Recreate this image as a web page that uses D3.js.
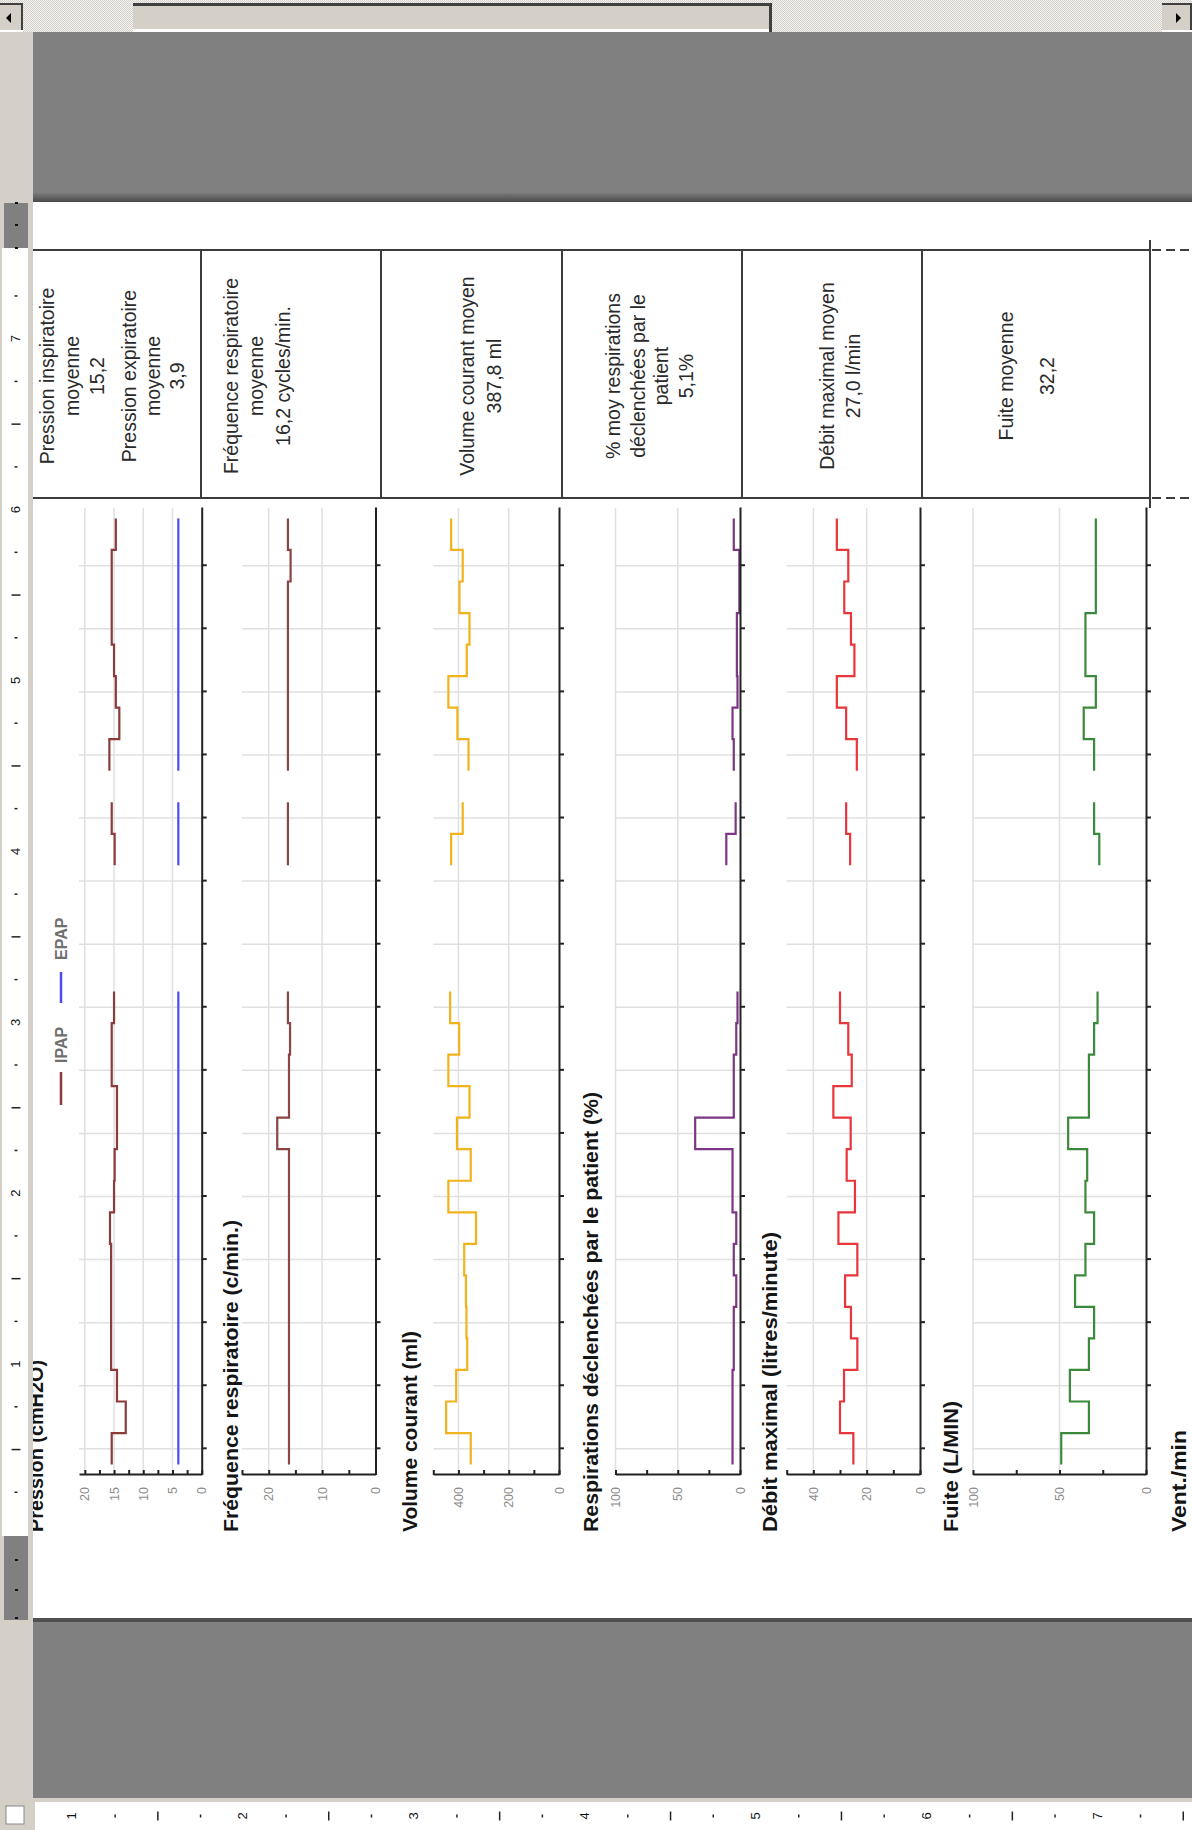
<!DOCTYPE html>
<html><head><meta charset="utf-8">
<script src="https://cdn.jsdelivr.net/npm/d3@7"></script>
<style>body{margin:0;background:#808080;overflow:hidden}svg{display:block}</style>
</head><body>
<svg id="c" width="1192" height="1830"></svg>
<script>
// ---------------- DATA (day index 0 = oldest day) ----------------
const dayIndex = d3.range(30);
const timeTicks = d3.range(0, 29, 2);
const ipap  = [15.4,13.0,14.5,15.5,15.5,15.5,15.5,15.7,15.0,14.9,14.5,14.5,15.4,15.4,15.0,null,null,null,null,14.9,15.4,null,15.8,14.1,14.7,15.0,15.4,15.4,15.4,14.7];
const epap  = [4.0,4.0,4.0,4.0,4.0,4.0,4.0,4.0,4.0,4.0,4.0,4.0,4.0,4.0,4.0,null,null,null,null,4.0,4.0,null,4.0,4.0,4.0,4.0,4.0,4.0,4.0,4.0];
const freq  = [16.2,16.2,16.2,16.2,16.2,16.2,16.2,16.2,16.2,16.2,18.4,16.2,16.2,16.0,16.4,null,null,null,null,16.4,16.4,null,16.4,16.4,16.4,16.4,16.4,16.4,15.9,16.4];
const volume= [351,449,409,365,368,370,377,330,440,351,406,356,440,397,433,null,null,null,null,429,383,null,360,404,440,367,356,396,383,429];
const patientPct = [6,6,6,5,5,3,5,3,6,6,36,5,5,3,2,null,null,null,null,11,3.5,null,5,6,2,2.5,2.5,0.5,0.5,5];
const debit = [25,30,28.5,23.5,25.9,28.1,23.5,30.6,24.4,27.5,26,32.5,25.6,26.9,30,null,null,null,null,26.2,27.7,null,23.7,27.7,31.2,24.6,25.9,28.4,26.9,31.2];
const fuite = [49,33,44,33,30,41,35,30,35,34,45,33,33,30,28,null,null,null,null,27,30,null,30,36,29,35,35,29,29,29];

const panelTitles = ["Pression (cmH2O)","Fréquence respiratoire (c/min.)","Volume courant (ml)","Respirations déclenchées par le patient (%)","Débit maximal (litres/minute)","Fuite (L/MIN)","Vent./min"];
const valueMax = [21,25,500,100,50,100];
const valueTickStep = [2.5,5,100,25,10,25];
const valueLabelStep = [5,10,200,50,20,50];
const legendNames = ["IPAP","EPAP"];

const headerCells = [
  ["Pression inspiratoire","moyenne","15,2","Pression expiratoire","moyenne","3,9"],
  ["Fréquence respiratoire","moyenne","16,2 cycles/min."],
  ["Volume courant moyen","387,8 ml"],
  ["% moy respirations","déclenchées par le","patient","5,1%"],
  ["Débit maximal moyen","27,0 l/min"],
  ["Fuite moyenne","32,2"]
];

// ---------------- LAYOUT ----------------
const W = 1192, H = 1830;
const headerLineV = [[47,72,96.5,129,153,177],[231,256,282.5],[466.5,494],[612.5,637.6,661,686],[826.5,853],[1006,1047]];
const stripEdges = [201,381,562,742,922,1150];
const axisV = [201.7,375.5,559,740,920,1146];
const topV  = [79,242,433.3,615.5,786.7,973];
const titleV = [43,238,417,598,777,958,1186];
const titleLen = [172,312,201,440,300,131,102];
const seriesColors = [["#8c3b3b","#4b4be8"],["#8c4444"],["#f2b21c"],["#7d3585"],["#e8363a"],["#3b8a3b"]];
const seriesData = [[ipap,epap],[freq],[volume],[patientPct],[debit],[fuite]];

const svg = d3.select("#c");
const defs = svg.append("defs");
const pat = defs.append("pattern").attr("id","hatch").attr("width",2).attr("height",2).attr("patternUnits","userSpaceOnUse");
pat.append("rect").attr("width",2).attr("height",2).attr("fill","#f4f4f4");
pat.append("rect").attr("width",1).attr("height",1).attr("fill","#d4d0c8");
pat.append("rect").attr("x",1).attr("y",1).attr("width",1).attr("height",1).attr("fill","#d4d0c8");
const sh = defs.append("linearGradient").attr("id","shadow").attr("x1",0).attr("y1",0).attr("x2",0).attr("y2",1);
sh.append("stop").attr("offset","0").attr("stop-color","#7a7a7a");
sh.append("stop").attr("offset","1").attr("stop-color","#4a4a4a");

svg.append("rect").attr("width",W).attr("height",H).attr("fill","#808080");
svg.append("rect").attr("x",33).attr("y",193).attr("width",W-33).attr("height",9).attr("fill","url(#shadow)");
svg.append("rect").attr("x",33).attr("y",202).attr("width",W-33).attr("height",1416).attr("fill","#ffffff");
svg.append("rect").attr("x",33).attr("y",1618).attr("width",W-33).attr("height",4).attr("fill","#505050");

// ---------------- REPORT (drawn upright, then rotated) ----------------
const g = svg.append("g").attr("transform",`translate(0,${H}) rotate(-90)`);
const U = y => H - y;   // screen y -> upright x

// header table
const hTop = U(250), hBot = U(498);
const tbl = g.append("g").attr("stroke","#3c3c3c").attr("stroke-width",2);
[hTop,hBot].forEach(u=>{
  tbl.append("line").attr("x1",u).attr("x2",u).attr("y1",0).attr("y2",1150);
  tbl.append("line").attr("x1",u).attr("x2",u).attr("y1",1152).attr("y2",W).attr("stroke-dasharray","9,5");
});
stripEdges.forEach(v=>tbl.append("line").attr("x1",hBot).attr("x2",hTop).attr("y1",v).attr("y2",v));
tbl.append("line").attr("x1",hTop).attr("x2",hTop+10).attr("y1",1150).attr("y2",1150);
tbl.append("line").attr("x1",hBot-10).attr("x2",hBot).attr("y1",1150).attr("y2",1150);

const hc = U(376);
headerCells.forEach((lines,i)=>{
  lines.forEach((s,j)=>{
    g.append("text").attr("x",hc).attr("y",headerLineV[i][j])
      .attr("text-anchor","middle").attr("dominant-baseline","central")
      .attr("font-family","'Liberation Sans',Arial,sans-serif").attr("font-size",19.5)
      .attr("fill","#2a2a2a").text(s);
  });
});

// time scale (shared)
const x = d3.scaleLinear().domain([-0.83,29.83]).range([U(1475),U(508)]);
const line = (ys)=> d3.line().x(d=>x(d.t)).y(d=>ys(d.v)).curve(d3.curveStepAfter);

function runsOf(vals){
  const runs=[]; let cur=null;
  vals.forEach((v,t)=>{
    if(v==null){cur=null;return;}
    if(!cur){cur=[];runs.push(cur);}
    cur.push({t:t-0.5,v:v});
  });
  runs.forEach(r=>{const l=r[r.length-1]; r.push({t:l.t+1,v:l.v});});
  return runs;
}

valueMax.forEach((mx,i)=>{
  const y = d3.scaleLinear().domain([0,mx]).range([axisV[i],topV[i]]);
  const p = g.append("g");
  const vt = d3.range(0,mx+1e-9,valueTickStep[i]).filter(v=>v<=mx);
  const labelled = vt.filter(v=>Math.abs(v/valueLabelStep[i]-Math.round(v/valueLabelStep[i]))<1e-6);
  labelled.filter(v=>v>0).forEach(v=>{
    p.append("line").attr("x1",x.range()[0]).attr("x2",x.range()[1]).attr("y1",y(v)).attr("y2",y(v))
      .attr("stroke","#e0e0e0").attr("stroke-width",1.5);
  });
  timeTicks.forEach(t=>{
    p.append("line").attr("x1",x(t)).attr("x2",x(t)).attr("y1",topV[i]).attr("y2",axisV[i])
      .attr("stroke","#e0e0e0").attr("stroke-width",1.5);
  });
  seriesData[i].forEach((vals,k)=>{
    runsOf(vals).forEach(r=>{
      p.append("path").attr("d",line(y)(r)).attr("fill","none")
        .attr("stroke",seriesColors[i][k]).attr("stroke-width",2.2);
    });
  });
  const ta = p.append("g").attr("transform",`translate(0,${axisV[i]})`)
    .call(d3.axisBottom(x).tickValues(timeTicks).tickSize(5).tickSizeOuter(0).tickFormat(""));
  ta.select(".domain").attr("stroke","#222").attr("stroke-width",2);
  ta.selectAll(".tick line").attr("stroke","#222").attr("stroke-width",2);
  const va = p.append("g").attr("transform",`translate(${x.range()[0]},0)`)
    .call(d3.axisLeft(y).tickValues(vt).tickSizeInner(-5).tickSizeOuter(0).tickPadding(12)
      .tickFormat(v=>labelled.includes(v)?d3.format("d")(v):""));
  va.select(".domain").attr("stroke","#222").attr("stroke-width",2);
  va.selectAll(".tick line").attr("stroke","#222").attr("stroke-width",2);
  va.selectAll(".tick text").attr("font-family","'Liberation Sans',Arial,sans-serif")
    .attr("font-size",12.5).attr("fill","#8a8a8a");
});

// titles
panelTitles.forEach((s,i)=>{
  g.append("text").attr("x",U(1532)).attr("y",titleV[i])
    .attr("font-family","'Liberation Sans',Arial,sans-serif").attr("font-weight","bold")
    .attr("font-size",21).attr("fill","#151515")
    .attr("textLength",titleLen[i]).attr("lengthAdjust","spacingAndGlyphs").text(s);
});

// legend (pression panel)
const lg = g.append("g").attr("font-family","'Liberation Sans',Arial,sans-serif").attr("font-weight","bold").attr("font-size",16).attr("fill","#707070");
lg.append("line").attr("x1",U(1105)).attr("x2",U(1072)).attr("y1",61).attr("y2",61).attr("stroke",seriesColors[0][0]).attr("stroke-width",2.5);
lg.append("text").attr("x",U(1063)).attr("y",61).attr("dominant-baseline","central").text(legendNames[0]);
lg.append("line").attr("x1",U(1003)).attr("x2",U(972)).attr("y1",61).attr("y2",61).attr("stroke",seriesColors[0][1]).attr("stroke-width",2.5);
lg.append("text").attr("x",U(960)).attr("y",61).attr("dominant-baseline","central").text(legendNames[1]);

// ---------------- WINDOW CHROME ----------------
svg.append("rect").attr("x",0).attr("y",32).attr("width",33).attr("height",H-32).attr("fill","#d4d0c8");
svg.append("rect").attr("x",2).attr("y",248).attr("width",26).attr("height",1288).attr("fill","#ffffff");
[[203,248],[1536,1620]].forEach(([a,b])=>{
  svg.append("rect").attr("x",4).attr("y",a).attr("width",24).attr("height",b-a).attr("fill","#808080");
});
[203,225,248,1560,1590,1618].forEach(yy=>svg.append("rect").attr("x",15).attr("y",yy-1).attr("width",3).attr("height",2).attr("fill","#111"));
const rulerY0 = 1535, rulerUnit = 170.9;
d3.range(1, 30).forEach(q=>{
  const yy = rulerY0 - q*rulerUnit/4;
  if (yy < 250) return;
  if (q%4===0) return;
  const len = q%2===0 ? 9 : 3;
  svg.append("line").attr("x1",16-len/2).attr("x2",16+len/2).attr("y1",yy).attr("y2",yy).attr("stroke","#222").attr("stroke-width",1.5);
});
d3.range(1,8).forEach(n=>{
  const yy = rulerY0 - n*rulerUnit;
  svg.append("text").attr("transform",`translate(20,${yy}) rotate(-90)`).attr("text-anchor","middle")
    .attr("font-family","'Liberation Sans',Arial,sans-serif").attr("font-size",13).attr("fill","#111").text(n);
});

// bottom ruler
svg.append("rect").attr("x",0).attr("y",1798).attr("width",W).attr("height",32).attr("fill","#d4d0c8");
svg.append("rect").attr("x",35).attr("y",1802).attr("width",W-35).attr("height",28).attr("fill","#ffffff");
svg.append("rect").attr("x",6).attr("y",1806).attr("width",18).attr("height",18).attr("fill","#ffffff").attr("stroke","#888");
const bx0 = -98.5;
d3.range(0, 34).forEach(q=>{
  const xx = bx0 + q*rulerUnit/4;
  if (xx < 38 || xx > W-2) return;
  if (q%4===0) return;
  const len = q%2===0 ? 9 : 3;
  svg.append("line").attr("x1",xx).attr("x2",xx).attr("y1",1816-len/2).attr("y2",1816+len/2).attr("stroke","#222").attr("stroke-width",1.5);
});
d3.range(1,8).forEach(n=>{
  const xx = bx0 + n*rulerUnit;
  svg.append("text").attr("transform",`translate(${xx+4},1816) rotate(-90)`).attr("text-anchor","middle")
    .attr("font-family","'Liberation Sans',Arial,sans-serif").attr("font-size",13).attr("fill","#111").text(n);
});

// top scrollbar
svg.append("rect").attr("x",0).attr("y",0).attr("width",W).attr("height",32).attr("fill","url(#hatch)");
svg.append("rect").attr("x",133).attr("y",3).attr("width",639).attr("height",29).attr("fill","#d4d0c8");
svg.append("rect").attr("x",133).attr("y",3).attr("width",639).attr("height",3).attr("fill","#404040");
svg.append("rect").attr("x",133).attr("y",29).attr("width",639).attr("height",3).attr("fill","#ffffff");
svg.append("rect").attr("x",769).attr("y",3).attr("width",3).attr("height",29).attr("fill","#404040");
[[0,23],[1162,30]].forEach(([bx,bw])=>{
  svg.append("rect").attr("x",bx).attr("y",3).attr("width",bw).attr("height",29).attr("fill","#d4d0c8");
  svg.append("rect").attr("x",bx).attr("y",3).attr("width",bw).attr("height",2).attr("fill","#404040");
  svg.append("rect").attr("x",bx+bw-2).attr("y",3).attr("width",2).attr("height",29).attr("fill","#404040");
  svg.append("rect").attr("x",bx).attr("y",30).attr("width",bw).attr("height",2).attr("fill","#ffffff");
});
svg.append("path").attr("d","M6,18 L11,13 L11,23 Z").attr("fill","#000");
svg.append("path").attr("d","M1181,18 L1176,13 L1176,23 Z").attr("fill","#000");
</script>
</body></html>
